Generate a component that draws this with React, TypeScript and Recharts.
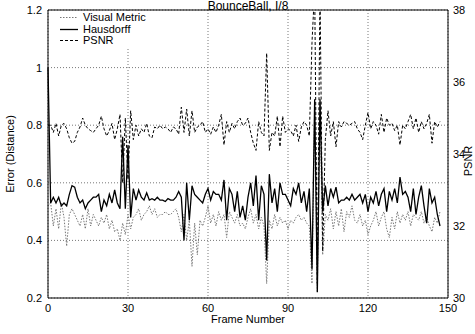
import { CartesianGrid, Line, LineChart, ReferenceLine, XAxis, YAxis } from "recharts"

const visualMetric = [
  0.52, 0.53, 0.45, 0.51, 0.44, 0.53, 0.48, 0.38, 0.49, 0.51,
  0.49, 0.47, 0.45, 0.49, 0.44, 0.51, 0.45, 0.49, 0.47, 0.45,
  0.48, 0.46, 0.49, 0.44, 0.47, 0.43, 0.44, 0.4, 0.46, 0.42,
  0.49, 0.44, 0.48, 0.49, 0.51, 0.47, 0.49, 0.5, 0.52, 0.49,
  0.51, 0.48, 0.49, 0.49, 0.5, 0.49, 0.49, 0.5, 0.51, 0.48,
  0.43, 0.49, 0.4, 0.47, 0.31, 0.46, 0.35, 0.47, 0.45, 0.48,
  0.52, 0.46, 0.49, 0.45, 0.5, 0.47, 0.49, 0.41, 0.5, 0.48,
  0.46, 0.49, 0.45, 0.46, 0.44, 0.48, 0.51, 0.46, 0.49, 0.44,
  0.48, 0.45, 0.25, 0.47, 0.44, 0.49, 0.45, 0.48, 0.46, 0.47,
  0.44, 0.47, 0.46, 0.48, 0.49, 0.47, 0.48, 0.46, 0.45, 0.25,
  0.87, 0.22, 0.88, 0.35, 0.49, 0.47, 0.51, 0.44, 0.5, 0.45,
  0.51, 0.43, 0.5, 0.48, 0.52, 0.47, 0.46, 0.49, 0.45, 0.47,
  0.42, 0.45, 0.47, 0.5, 0.45, 0.48, 0.5, 0.44, 0.41, 0.48,
  0.44, 0.5, 0.46, 0.49, 0.47, 0.5, 0.45, 0.49, 0.48, 0.47,
  0.5, 0.46, 0.48, 0.45, 0.43, 0.48, 0.46, 0.5,
]

const hausdorff = [
  1.0, 0.53, 0.55, 0.53, 0.55, 0.52, 0.53, 0.52, 0.56, 0.59,
  0.585, 0.55, 0.53, 0.54, 0.51, 0.53, 0.54, 0.55, 0.55, 0.56,
  0.5, 0.54, 0.52, 0.56, 0.53, 0.575, 0.53, 0.51, 0.76, 0.51,
  0.73, 0.48, 0.58, 0.54, 0.575, 0.55, 0.54, 0.565, 0.54, 0.545,
  0.54, 0.55, 0.54, 0.54, 0.535, 0.545, 0.54, 0.54, 0.55, 0.57,
  0.55, 0.4, 0.6, 0.47, 0.59, 0.56, 0.55, 0.54, 0.53, 0.56,
  0.58, 0.54, 0.57, 0.56, 0.56, 0.54, 0.61, 0.47, 0.58, 0.56,
  0.5, 0.57, 0.48, 0.52, 0.47, 0.55, 0.6, 0.52, 0.625, 0.47,
  0.59, 0.56, 0.33, 0.63, 0.53, 0.58, 0.5, 0.6, 0.56, 0.56,
  0.54, 0.52, 0.58, 0.56, 0.6, 0.53, 0.57, 0.5, 0.58, 0.3,
  0.89, 0.22, 0.89, 0.5, 0.59, 0.52, 0.58, 0.55, 0.585, 0.53,
  0.54, 0.54, 0.55, 0.54, 0.56, 0.54, 0.55, 0.56, 0.53, 0.56,
  0.5, 0.55, 0.53, 0.57, 0.52, 0.56, 0.58, 0.5, 0.57, 0.54,
  0.58, 0.53, 0.62, 0.56, 0.57, 0.55, 0.5, 0.58, 0.49, 0.55,
  0.59, 0.52, 0.46, 0.58, 0.53, 0.55, 0.49, 0.45,
]

const psnr = [
  34.8, 34.8, 34.6, 34.85, 34.5, 34.8, 34.85, 34.7, 34.45, 34.3,
  34.35, 34.6, 34.75, 35.0, 34.8, 34.7, 34.65, 34.6, 34.7, 34.8,
  35.05, 34.7, 34.5, 34.65, 34.85, 34.4, 34.7, 35.1, 33.2, 35.0,
  33.3, 35.2, 34.4, 34.8, 34.5, 34.7, 34.6, 34.85, 34.5, 34.45,
  34.75, 34.7, 34.8, 34.7, 34.75, 34.7, 34.6, 34.75, 34.7, 34.55,
  35.3, 34.6, 35.25, 34.5, 35.2, 34.6, 34.75, 34.8, 34.9, 34.6,
  34.7, 34.55, 34.75, 34.6, 34.8, 35.1, 34.25, 34.9, 34.6, 34.85,
  34.7, 34.9, 35.0, 34.8, 34.85, 35.0, 34.6, 34.3, 34.1, 34.9,
  34.6, 34.5, 36.8, 34.1, 34.6, 34.5, 35.05, 34.2, 35.05, 34.6,
  34.7, 34.65, 34.5, 34.8, 34.35, 34.75, 34.9, 34.8, 34.5, 37.1,
  38.6, 30.4, 38.6, 31.3, 34.4, 35.2, 34.5, 34.9, 34.2, 34.9,
  34.75, 34.9, 34.85, 34.8, 34.85, 34.9, 34.7, 34.6, 34.4, 34.8,
  35.15, 34.7, 34.9, 34.8, 34.55, 35.1, 34.6, 35.0, 34.8, 34.85,
  34.65, 34.8, 34.25, 34.8, 34.7, 34.9, 35.1, 34.7, 35.0, 34.6,
  34.9, 34.7, 34.85, 35.1, 34.3, 34.9, 34.75, 34.9,
]

const frameTicks = [0, 30, 60, 90, 120, 150]
const errorTicks = [0.2, 0.4, 0.6, 0.8, 1, 1.2]
const psnrTicks = [30, 32, 34, 36, 38]

const data = hausdorff.map((h, i) => ({
  frame: i,
  visual: visualMetric[i],
  hausdorff: h,
  psnr: psnr[i],
}))

const font = "'Liberation Sans', Arial, sans-serif"
const tickStyle = { fontSize: 11, fill: "#000", fontFamily: font }

const legendItems = [
  { label: "Visual Metric", stroke: "#777", dash: "1.5 1.5", width: 1 },
  { label: "Hausdorff", stroke: "#000", dash: undefined, width: 1.3 },
  { label: "PSNR", stroke: "#000", dash: "3 2", width: 1 },
]

export default function App() {
  return (
    <div style={{ position: "absolute", left: 0, top: 0, width: 475, height: 334, background: "#fff", fontFamily: font }}>
      <LineChart width={475} height={334} data={data} margin={{ top: 10, right: 0, bottom: 0, left: 0 }}>
        <CartesianGrid yAxisId="left" stroke="#555" strokeDasharray="1 2" strokeWidth={0.8} />
        <XAxis
          dataKey="frame"
          type="number"
          domain={[0, 150]}
          ticks={frameTicks}
          height={36}
          tickLine={false}
          tickSize={4}
          tickMargin={2}
          tick={tickStyle}
          axisLine={{ stroke: "#000" }}
        />
        <YAxis
          yAxisId="left"
          domain={[0.2, 1.2]}
          ticks={errorTicks}
          width={48}
          allowDataOverflow
          tickLine={false}
          tickSize={4}
          tickMargin={2}
          tick={tickStyle}
          axisLine={{ stroke: "#000" }}
        />
        <YAxis
          yAxisId="right"
          orientation="right"
          domain={[30, 38]}
          ticks={psnrTicks}
          width={27}
          allowDataOverflow
          tickLine={false}
          tickSize={3}
          tickMargin={2}
          tick={tickStyle}
          axisLine={{ stroke: "#000" }}
        />
        <ReferenceLine yAxisId="left" y={1.2} stroke="#000" />
        <Line
          yAxisId="left"
          dataKey="visual"
          stroke="#777"
          strokeWidth={1}
          strokeDasharray="1.5 1.5"
          dot={false}
          isAnimationActive={false}
        />
        <Line
          yAxisId="left"
          dataKey="hausdorff"
          stroke="#000"
          strokeWidth={1.3}
          dot={false}
          isAnimationActive={false}
        />
        <Line
          yAxisId="right"
          dataKey="psnr"
          stroke="#000"
          strokeWidth={1}
          strokeDasharray="3 2"
          dot={false}
          isAnimationActive={false}
        />
      </LineChart>

      <div style={{ position: "absolute", left: 0, top: 0, width: 496, textAlign: "center", fontSize: 12, lineHeight: "13px" }}>
        BounceBall, I/8
      </div>
      <div style={{ position: "absolute", left: 48, top: 313, width: 400, textAlign: "center", fontSize: 11 }}>
        Frame Number
      </div>
      <div
        style={{
          position: "absolute",
          left: 10,
          top: 154,
          fontSize: 11,
          whiteSpace: "nowrap",
          transform: "translate(-50%, -50%) rotate(-90deg)",
        }}
      >
        Error (Distance)
      </div>
      <div
        style={{
          position: "absolute",
          left: 468,
          top: 161,
          fontSize: 11,
          lineHeight: "11px",
          whiteSpace: "nowrap",
          transform: "translate(-50%, -50%) rotate(-90deg)",
        }}
      >
        PSNR
      </div>

      <div style={{ position: "absolute", left: 57, top: 12, width: 92, background: "#fff", fontSize: 11, lineHeight: "11.5px" }}>
        {legendItems.map((item) => (
          <div key={item.label} style={{ display: "flex", alignItems: "center" }}>
            <svg width={26} height={11}>
              <line x1={3} x2={21} y1={5.5} y2={5.5} stroke={item.stroke} strokeWidth={item.width} strokeDasharray={item.dash} />
            </svg>
            <span>{item.label}</span>
          </div>
        ))}
      </div>
    </div>
  )
}
